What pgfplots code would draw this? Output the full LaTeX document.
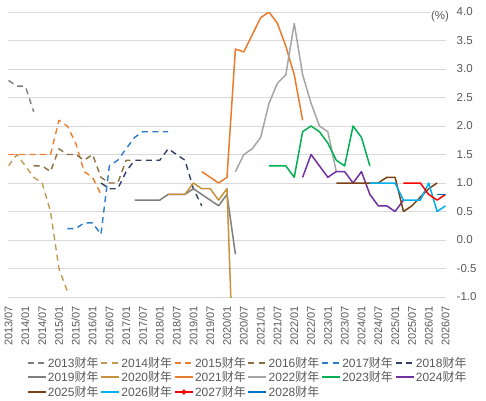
\documentclass[border=0pt]{standalone}
\usepackage{pgfplots}
\pgfplotsset{compat=1.18}
\usepackage{fontspec}
\setmainfont{Liberation Sans}
\newfontfamily\cjk{Noto Sans CJK SC}
\definecolor{c13}{HTML}{7F7F7F}
\definecolor{c14}{HTML}{C49A52}
\definecolor{c15}{HTML}{ED7D31}
\definecolor{c16}{HTML}{8D6E42}
\definecolor{c17}{HTML}{2B7BCB}
\definecolor{c18}{HTML}{323F66}
\definecolor{c19}{HTML}{7F7F7F}
\definecolor{c20}{HTML}{C8913C}
\definecolor{c21}{HTML}{E97C2C}
\definecolor{c22}{HTML}{A5A5A5}
\definecolor{c23}{HTML}{00B050}
\definecolor{c24}{HTML}{7030A0}
\definecolor{c25}{HTML}{7A4016}
\definecolor{c26}{HTML}{00B0F0}
\definecolor{c27}{HTML}{FF0000}
\definecolor{c28}{HTML}{0070C0}
\definecolor{txt}{HTML}{595959}
\definecolor{grd}{HTML}{D9D9D9}
\newcommand{\fy}[1]{#1{\cjk 财年}}
\pgfplotsset{
  dsh/.style={dash pattern=on 6pt off 4.5pt, line width=1.4pt},
  sld/.style={line width=1.5pt},
  base/.style={
    at={(0pt,0pt)}, anchor=south west,
    scale only axis, width=437pt, height=285pt,
    legend image code/.code={\draw[mark repeat=2,mark phase=2,##1] plot coordinates {(0pt,0pt) (9pt,0pt) (18pt,0pt)};},
    legend columns=6,
    legend cell align=left,
    legend style={anchor=north west, draw=none, fill=none, inner sep=0pt,
      font=\fontsize{12}{13}\selectfont, text=txt,
      nodes={inner xsep=1.5pt, inner ysep=1pt},
      row sep=0.5pt,
      /tikz/every even column/.append style={column sep=0.4pt}},
  },
}
\begin{document}
\begin{tikzpicture}
\begin{axis}[
  base,
  xmin=0, xmax=52, ymin=-1, ymax=4,
  clip mode=individual,
  axis line style={draw=none},
  tick style={draw=none},
  ymajorgrids, grid style={color=grd, line width=0.8pt},
  ytick={-1,-0.5,...,4},
  yticklabel pos=right,
  yticklabel style={font=\fontsize{11.5}{13}\selectfont, text=txt, anchor=west, inner sep=0pt},
  yticklabel shift=11pt,
  /pgf/number format/.cd, fixed, fixed zerofill, precision=1, assume math mode=true,
  /pgfplots/.cd,
  xtick={0,2,...,52},
  xticklabels={2013/07,2014/01,2014/07,2015/01,2015/07,2016/01,2016/07,2017/01,2017/07,2018/01,2018/07,2019/01,2019/07,2020/01,2020/07,2021/01,2021/07,2022/01,2022/07,2023/01,2023/07,2024/01,2024/07,2025/01,2025/07,2026/01,2026/07},
  xticklabel style={font=\fontsize{11}{13}\selectfont, text=txt, rotate=90, anchor=east, inner sep=0pt},
  xticklabel shift=9pt,
  no markers,
  every axis plot/.append style={line join=round},
  legend style={at={(0.0416,-0.207)}},
]
\addplot[c13, dsh] coordinates {(0,2.8)(1,2.7)(2,2.7)(3,2.25)};
\addlegendentry{\fy{2013}}
\addplot[c14, dsh] coordinates {(0,1.3)(1,1.5)(2,1.3)(3,1.1)(4,1.0)(5,0.5)(6,-0.5)(7,-0.9)};
\addlegendentry{\fy{2014}}
\addplot[c15, dsh] coordinates {(0,1.5)(1,1.5)(2,1.5)(3,1.5)(4,1.5)(5,1.5)(6,2.1)(7,2.0)(8,1.7)(9,1.2)(10,1.1)(11,0.8)};
\addlegendentry{\fy{2015}}
\addplot[c16, dsh] coordinates {(3,1.3)(4,1.3)(5,1.2)(6,1.6)(7,1.5)(8,1.5)(9,1.4)(10,1.5)(11,1.1)(12,1.0)(13,1.0)(14,1.4)(15,1.4)};
\addlegendentry{\fy{2016}}
\addplot[c17, dsh] coordinates {(7,0.2)(8,0.2)(9,0.3)(10,0.3)(11,0.1)(12,1.3)(13,1.4)(14,1.6)(15,1.8)(16,1.9)(17,1.9)(18,1.9)(19,1.9)};
\addlegendentry{\fy{2017}}
\addplot[c18, dsh] coordinates {(11,1.0)(12,0.9)(13,0.9)(14,1.2)(15,1.4)(16,1.4)(17,1.4)(18,1.4)(19,1.6)(20,1.5)(21,1.4)(22,0.9)(23,0.6)};
\addlegendentry{\fy{2018}}
\addplot[c19, sld] coordinates {(15,0.7)(16,0.7)(17,0.7)(18,0.7)(19,0.8)(20,0.8)(21,0.8)(22,0.9)(23,0.8)(24,0.7)(25,0.6)(26,0.8)(27,-0.25)};
\addlegendentry{\fy{2019}}
\addplot[c20, sld] coordinates {(19,0.8)(20,0.8)(21,0.8)(22,1.0)(23,0.9)(24,0.9)(25,0.7)(26,0.9)(27,-3.3)};
\addlegendentry{\fy{2020}}
\addplot[c21, sld] coordinates {(23,1.2)(24,1.1)(25,1.0)(26,1.1)(27,3.35)(28,3.3)(29,3.6)(30,3.9)(31,4.0)(32,3.8)(33,3.4)(34,2.9)(35,2.1)};
\addlegendentry{\fy{2021}}
\addplot[c22, sld] coordinates {(27,1.2)(28,1.5)(29,1.6)(30,1.8)(31,2.4)(32,2.75)(33,2.9)(34,3.8)(35,2.9)(36,2.4)(37,2.0)(38,1.9)(39,1.2)};
\addlegendentry{\fy{2022}}
\addplot[c23, sld] coordinates {(31,1.3)(32,1.3)(33,1.3)(34,1.1)(35,1.9)(36,2.0)(37,1.9)(38,1.7)(39,1.4)(40,1.3)(41,2.0)(42,1.8)(43,1.3)};
\addlegendentry{\fy{2023}}
\addplot[c24, sld] coordinates {(35,1.1)(36,1.5)(37,1.3)(38,1.1)(39,1.2)(40,1.2)(41,1.0)(42,1.2)(43,0.8)(44,0.6)(45,0.6)(46,0.5)(47,0.7)};
\addlegendentry{\fy{2024}}
\addplot[c25, sld] coordinates {(39,1.0)(40,1.0)(41,1.0)(42,1.0)(43,1.0)(44,1.0)(45,1.1)(46,1.1)(47,0.5)(48,0.6)(49,0.75)(50,0.9)(51,1.0)};
\addplot[c26, sld] coordinates {(43,1.0)(44,1.0)(45,1.0)(46,1.0)(47,0.7)(48,0.7)(49,0.7)(50,1.0)(51,0.5)(52,0.6)};
\addplot[c27, sld, mark=*, mark size=1.7pt, mark options={solid, fill=c27}] coordinates {(47,1.0)(48,1.0)(49,1.0)(50,0.8)(51,0.7)(52,0.8)};
\addplot[c28, sld] coordinates {(51,0.8)(52,0.8)};
\node[fill=white, inner sep=1pt, text=txt, font=\fontsize{11.5}{13}\selectfont] at (axis cs:51.35,3.92) {(\%)};
\end{axis}
\begin{axis}[
  base, hide axis,
  xmin=0, xmax=1, ymin=0, ymax=1,
  legend style={at={(0.0416,-0.3088)}},
]
\addlegendimage{c25, sld}
\addlegendentry{\fy{2025}}
\addlegendimage{c26, sld}
\addlegendentry{\fy{2026}}
\addlegendimage{c27, sld, mark=*, mark size=1.7pt, mark options={solid, fill=c27}}
\addlegendentry{\fy{2027}}
\addlegendimage{c28, sld}
\addlegendentry{\fy{2028}}
\end{axis}
\pgfresetboundingbox
\path[use as bounding box] (-8.5pt,-103pt) rectangle (477.5pt,297pt);
\end{tikzpicture}
\end{document}
